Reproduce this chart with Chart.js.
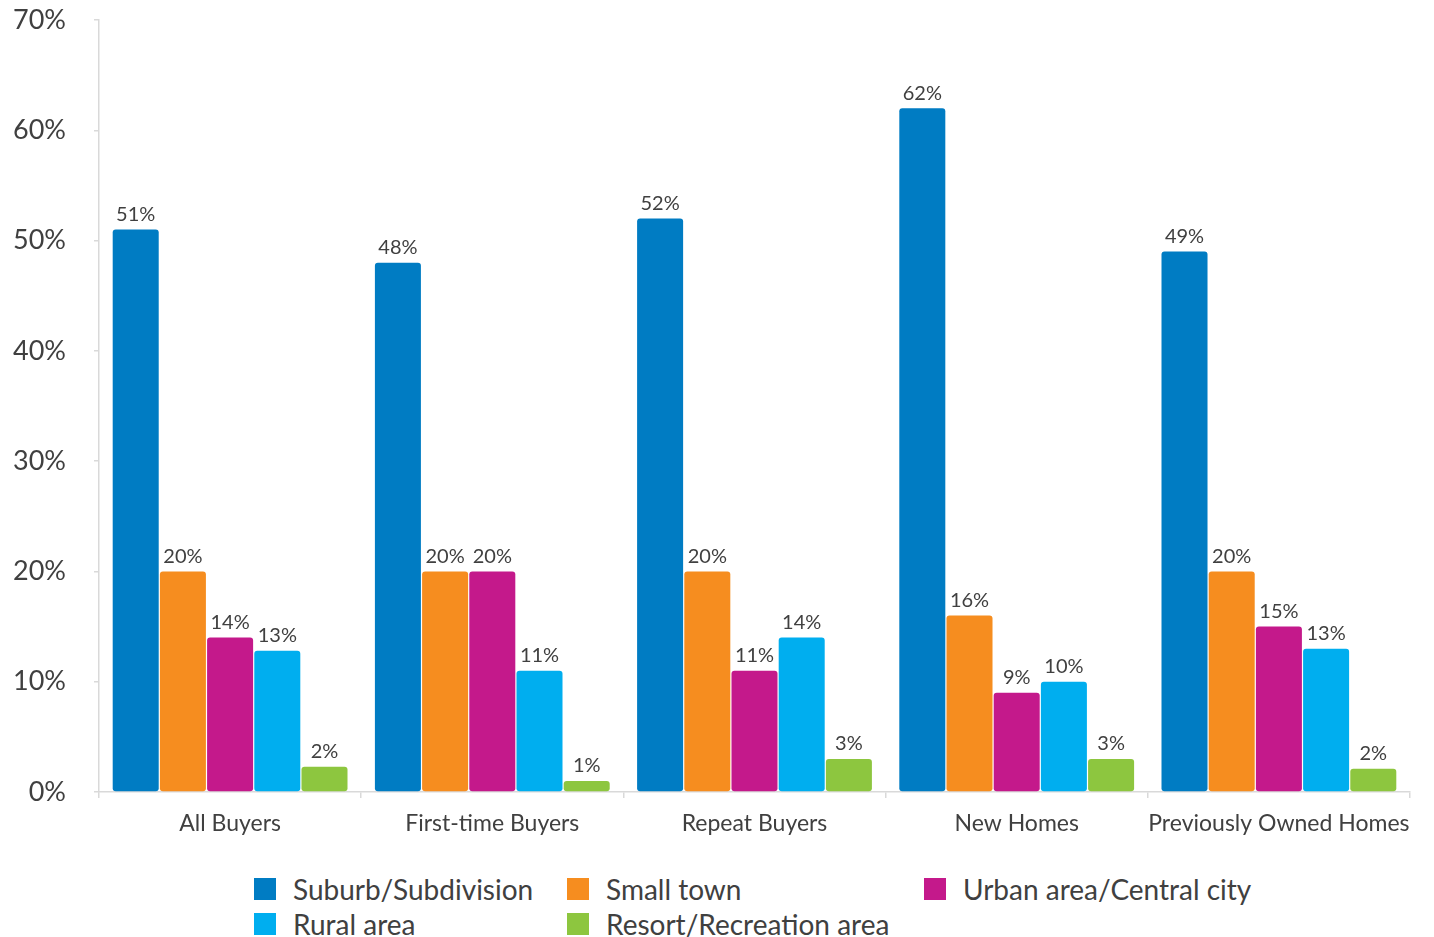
<!DOCTYPE html>
<html>
<head>
<meta charset="utf-8">
<script src="https://cdn.jsdelivr.net/npm/chart.js@4"></script>
<style>
    html, body { margin: 0; padding: 0; background: #fff; }
    body { width: 1434px; height: 937px; position: relative; overflow: hidden; font-family: Lato, "Open Sans", sans-serif; }
    #wrap { position: absolute; left: 0; top: 0; width: 1434px; height: 860px; }
    #legend { position: absolute; left: 254px; top: 878px; display: grid; grid-template-columns: 313px 357px 320px; row-gap: 13px; }
    .item { display: flex; align-items: center; height: 22px; font-size: 28px; font-weight: 400; color: #404040; white-space: nowrap; }
    .item .box { width: 22px; height: 22px; margin-right: 17px; flex: none; }
</style>
</head>
<body>
<div id="wrap"><canvas id="chart"></canvas></div>
<div id="legend"></div>
<script>
// 카테고리 / 시리즈
const categories = ["All Buyers", "First-time Buyers", "Repeat Buyers", "New Homes", "Previously Owned Homes"];
const seriesNames = ["Suburb/Subdivision", "Small town", "Urban area/Central city", "Rural area", "Resort/Recreation area"];
const suburb = [51, 48, 52, 62, 49];
const smallTown = [20, 20, 20, 16, 20];
const urban = [14, 20, 11, 9, 15];
const rural = [12.8, 11, 14, 10, 13];
const resort = [2.3, 1, 3, 3, 2.1];
const yTicks = [0, 10, 20, 30, 40, 50, 60, 70];

const colors = ["#007cc3", "#f68d1f", "#c4198b", "#00aeef", "#8dc63f"];
const seriesValues = [suburb, smallTown, urban, rural, resort];

const FONT = "Lato, 'Open Sans', sans-serif";

// 값 라벨
const valueLabels = {
    id: "valueLabels",
    afterDatasetsDraw(chart) {
        const ctx = chart.ctx;
        ctx.save();
        ctx.font = "400 20px " + FONT;
        ctx.fillStyle = "#404040";
        ctx.textAlign = "center";
        ctx.textBaseline = "bottom";
        chart.data.datasets.forEach((ds, i) => {
            chart.getDatasetMeta(i).data.forEach((bar, j) => {
                ctx.fillText(Math.round(ds.data[j]) + "%", bar.x, bar.y - 5);
            });
        });
        ctx.restore();
    }
};

const datasets = seriesNames.map((name, i) => ({
    label: name,
    data: seriesValues[i],
    backgroundColor: colors[i],
    borderRadius: 3,
    borderSkipped: false,
    categoryPercentage: 0.9,
    barPercentage: 0.975
}));

new Chart(document.getElementById("chart"), {
    type: "bar",
    data: { labels: categories, datasets: datasets },
    options: {
        responsive: true,
        maintainAspectRatio: false,
        animation: false,
        layout: { padding: { top: 0, right: 24, left: 0, bottom: 0 } },
        scales: {
            y: {
                min: 0,
                max: 70,
                afterBuildTicks: (scale) => { scale.ticks = yTicks.map(v => ({ value: v })); },
                afterFit: (scale) => {
                    scale.width = 99;
                    scale.paddingTop = 20;
                    scale.paddingBottom = 0;
                },
                border: { color: "#d9d9d9", width: 1.5 },
                grid: { drawOnChartArea: false, tickLength: 5, color: "#d9d9d9", lineWidth: 1.5 },
                ticks: {
                    padding: 28,
                    color: "#404040",
                    font: { family: FONT, size: 27, weight: 400 },
                    callback: (v) => v + "%"
                }
            },
            x: {
                afterFit: (scale) => { scale.height = 68; },
                border: { color: "#d9d9d9", width: 1.5 },
                grid: { drawOnChartArea: false, tickLength: 6, color: "#d9d9d9", lineWidth: 1.5, offset: true },
                ticks: {
                    padding: 12,
                    color: "#404040",
                    maxRotation: 0,
                    autoSkip: false,
                    font: { family: FONT, size: 23, weight: 400 }
                }
            }
        },
        plugins: {
            legend: { display: false },
            tooltip: { enabled: false }
        }
    },
    plugins: [valueLabels]
});

// 범례 (열 정렬)
const legend = document.getElementById("legend");
seriesNames.forEach((name, i) => {
    const item = document.createElement("div");
    item.className = "item";
    item.innerHTML = '<span class="box" style="background:' + colors[i] + '"></span><span>' + name + '</span>';
    legend.appendChild(item);
});
</script>
</body>
</html>
